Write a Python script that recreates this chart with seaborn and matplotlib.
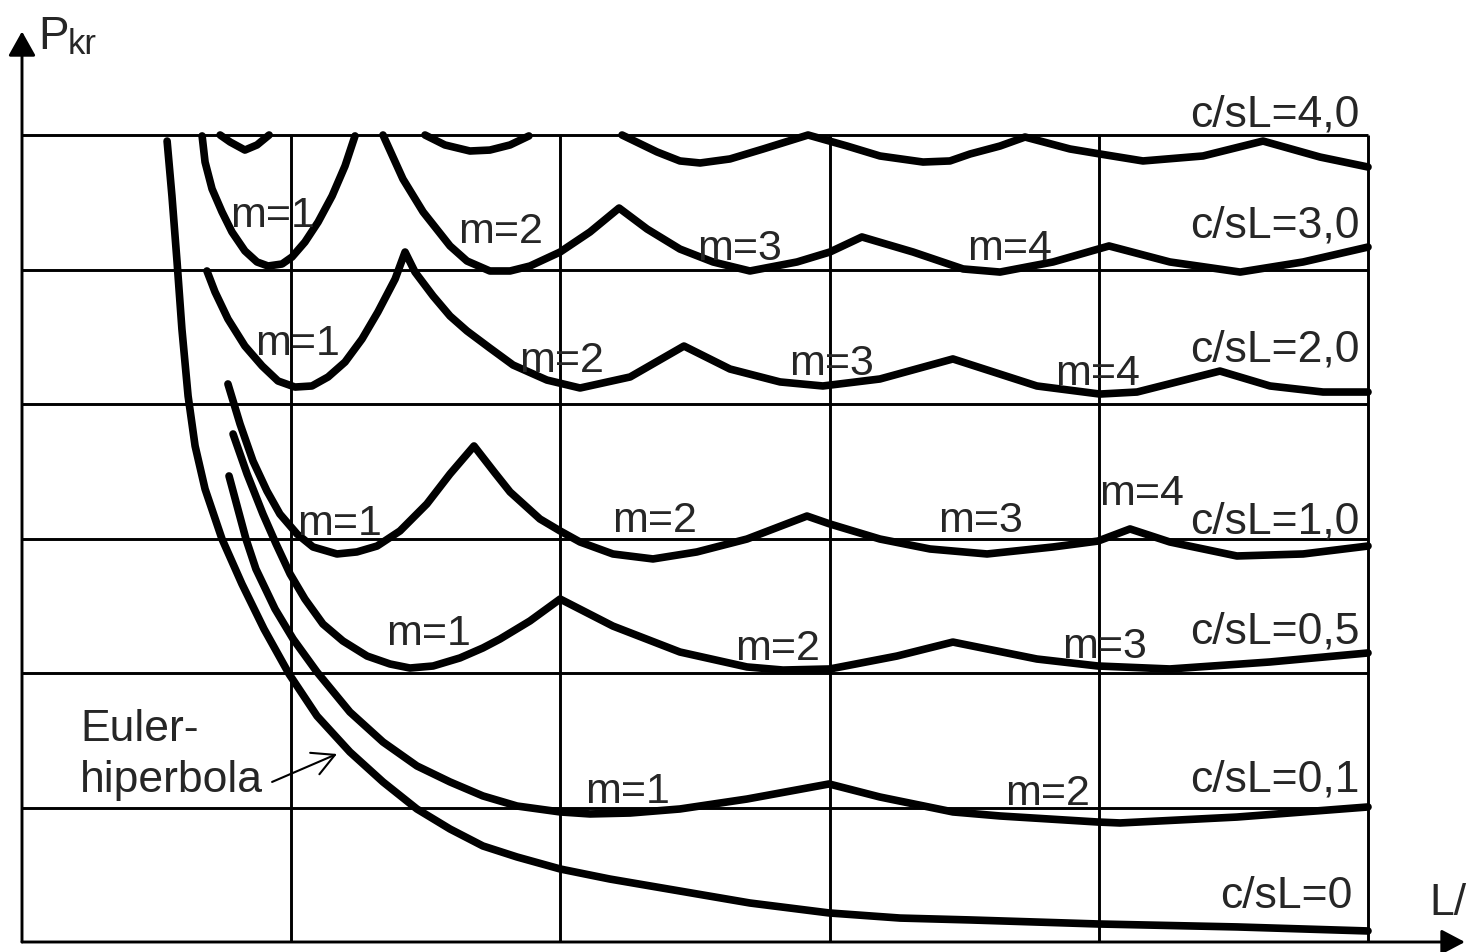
import numpy as np
import pandas as pd
import matplotlib
matplotlib.use("Agg")
import matplotlib.pyplot as plt
import seaborn as sns

# ---------------- data (grid units: L/... on x, P_kr on y) ----------------
euler_x = [0.539, 0.557, 0.576, 0.594, 0.617, 0.643, 0.680, 0.743, 0.817, 0.899, 0.992, 1.096, 1.218,
           1.341, 1.467, 1.590, 1.712, 1.839, 1.999, 2.184, 2.444, 2.704, 2.998, 3.262, 3.522, 3.997,
           4.513, 5.000]
euler_y = [5.955, 5.547, 5.056, 4.558, 4.059, 3.688, 3.368, 2.996, 2.662, 2.327, 1.993, 1.680, 1.413,
           1.190, 0.989, 0.840, 0.714, 0.632, 0.543, 0.468, 0.379, 0.290, 0.216, 0.178, 0.164, 0.134,
           0.112, 0.082]

c01_x = [0.769, 0.802, 0.832, 0.869, 0.940, 1.007, 1.096, 1.218, 1.341, 1.467, 1.590, 1.712, 1.839,
         1.999, 2.110, 2.259, 2.444, 2.693, 2.998, 3.187, 3.458, 3.633, 3.997, 4.079, 4.513, 5.000]
c01_y = [3.465, 3.219, 2.996, 2.773, 2.476, 2.253, 2.007, 1.710, 1.487, 1.309, 1.190, 1.086, 1.011,
         0.967, 0.952, 0.959, 0.989, 1.063, 1.175, 1.078, 0.967, 0.937, 0.892, 0.885, 0.929, 1.004]

c05_x = [0.784, 0.836, 0.895, 0.944, 0.996, 1.051, 1.118, 1.192, 1.282, 1.367, 1.441, 1.527, 1.627,
         1.712, 1.776, 1.887, 1.999, 2.195, 2.444, 2.693, 2.827, 3.001, 3.250, 3.458, 3.770, 3.997,
         4.264, 4.636, 5.000]
c05_y = [3.777, 3.480, 3.182, 2.959, 2.736, 2.550, 2.364, 2.238, 2.126, 2.067, 2.037, 2.052, 2.112,
         2.186, 2.253, 2.387, 2.550, 2.349, 2.156, 2.045, 2.022, 2.030, 2.126, 2.230, 2.104, 2.052,
         2.030, 2.082, 2.149]

c10_x = [0.765, 0.810, 0.858, 0.910, 0.958, 1.022, 1.081, 1.170, 1.244, 1.319, 1.404, 1.504, 1.590,
         1.679, 1.757, 1.813, 1.924, 1.999, 2.073, 2.195, 2.344, 2.507, 2.693, 2.916, 3.001, 3.187,
         3.373, 3.585, 3.830, 3.997, 4.116, 4.264, 4.513, 4.759, 5.000]
c10_y = [4.149, 3.851, 3.576, 3.353, 3.182, 3.033, 2.937, 2.885, 2.900, 2.944, 3.056, 3.257, 3.480,
         3.688, 3.487, 3.346, 3.145, 3.056, 2.974, 2.885, 2.848, 2.900, 2.996, 3.167, 3.108, 2.996,
         2.922, 2.885, 2.937, 2.981, 3.071, 2.974, 2.870, 2.885, 2.944]

c20_x = [0.687, 0.717, 0.765, 0.828, 0.892, 0.951, 1.014, 1.077, 1.137, 1.200, 1.263, 1.322, 1.386,
         1.423, 1.460, 1.527, 1.590, 1.653, 1.738, 1.824, 1.950, 2.073, 2.259, 2.459, 2.630, 2.816,
         2.975, 3.187, 3.458, 3.770, 4.004, 4.142, 4.450, 4.636, 4.833, 5.000]
c20_y = [4.989, 4.833, 4.632, 4.431, 4.283, 4.171, 4.126, 4.134, 4.201, 4.312, 4.483, 4.684, 4.929,
         5.130, 4.981, 4.803, 4.654, 4.543, 4.416, 4.290, 4.178, 4.119, 4.201, 4.431, 4.260, 4.164,
         4.134, 4.186, 4.335, 4.134, 4.074, 4.089, 4.245, 4.134, 4.089, 4.089]

c30a_x = [0.669, 0.680, 0.706, 0.743, 0.780, 0.828, 0.873, 0.914, 0.966, 1.003, 1.051, 1.100, 1.152,
          1.200, 1.237]
c30a_y = [5.993, 5.799, 5.599, 5.428, 5.279, 5.138, 5.056, 5.026, 5.041, 5.093, 5.204, 5.353, 5.547,
          5.770, 5.993]
c30b_x = [1.341, 1.415, 1.490, 1.590, 1.653, 1.738, 1.813, 1.887, 1.999, 2.110, 2.218, 2.322, 2.444, 2.567,
          2.704, 2.879, 3.001, 3.120, 3.310, 3.496, 3.633, 3.830, 4.038, 4.264, 4.525, 4.759, 5.000]
c30b_y = [6.000, 5.673, 5.428, 5.175, 5.063, 4.989, 4.989, 5.026, 5.130, 5.279, 5.457, 5.301, 5.152, 5.056,
          4.989, 5.056, 5.130, 5.242, 5.130, 5.004, 4.981, 5.056, 5.175, 5.056, 4.981, 5.056, 5.167]

c40a_x = [0.736, 0.773, 0.828, 0.873, 0.918]
c40a_y = [6.000, 5.948, 5.888, 5.926, 6.000]
c40b_x = [1.497, 1.571, 1.664, 1.738, 1.813, 1.883]
c40b_y = [6.000, 5.926, 5.881, 5.888, 5.926, 5.993]
c40c_x = [2.229, 2.359, 2.444, 2.519, 2.630, 2.753, 2.920, 3.065, 3.187, 3.347, 3.447, 3.522, 3.633,
          3.726, 3.893, 4.004, 4.164, 4.387, 4.610, 4.822, 5.000]
c40c_y = [6.000, 5.874, 5.807, 5.792, 5.822, 5.896, 6.000, 5.918, 5.844, 5.799, 5.807, 5.859, 5.918,
          5.985, 5.896, 5.859, 5.807, 5.844, 5.955, 5.836, 5.762]

series_labels = ["c/sL=4,0", "c/sL=3,0", "c/sL=2,0", "c/sL=1,0", "c/sL=0,5", "c/sL=0,1", "c/sL=0"]
mode_labels = ["m=1", "m=2", "m=3", "m=4"]
y_label_main, y_label_sub = "P", "kr"
x_label = "L/"
euler_label = ["Euler-", "hiperbola"]

segments = [
    ("c0", euler_x, euler_y), ("c01", c01_x, c01_y), ("c05", c05_x, c05_y),
    ("c10", c10_x, c10_y), ("c20", c20_x, c20_y), ("c30a", c30a_x, c30a_y),
    ("c30b", c30b_x, c30b_y), ("c40a", c40a_x, c40a_y), ("c40b", c40b_x, c40b_y),
    ("c40c", c40c_x, c40c_y),
]
frames = []
for name, xs, ys in segments:
    frames.append(pd.DataFrame({"x": xs, "y": ys, "seg": name}))
df = pd.concat(frames, ignore_index=True)

# ---------------- drawing ----------------
sns.set_style("white")
plt.rcParams["font.family"] = ["Liberation Sans", "DejaVu Sans"]

fig = plt.figure(figsize=(14.67, 9.53), dpi=100)
ax = fig.add_axes([0, 0, 1, 1])
XLIM = (-22 / 269.2, 1445 / 269.2)
YLIM = (-10 / 134.5, 943 / 134.5)

grid_lw = 2.1
for yv in range(1, 7):
    ax.plot([0, 5], [yv, yv], color="black", lw=grid_lw, solid_capstyle="butt", zorder=1)
for xv in range(1, 6):
    ax.plot([xv, xv], [0, 6], color="black", lw=grid_lw, solid_capstyle="butt", zorder=1)

# axes with arrows
ax.annotate("", xy=(0, 6.77), xytext=(0, 0),
            arrowprops=dict(arrowstyle="-|>,head_length=0.75,head_width=0.42", lw=grid_lw,
                            color="black", shrinkA=0, shrinkB=0, mutation_scale=20), zorder=2)
ax.annotate("", xy=(5.36, 0), xytext=(0, 0),
            arrowprops=dict(arrowstyle="-|>,head_length=0.72,head_width=0.38", lw=grid_lw,
                            color="black", shrinkA=0, shrinkB=0, mutation_scale=20), zorder=2)

# curves
sns.lineplot(data=df, x="x", y="y", units="seg", estimator=None, sort=False,
             color="black", linewidth=5.5, ax=ax, legend=False,
             solid_capstyle="round", solid_joinstyle="round", zorder=3)
ax.axis("off")
ax.set_xlim(*XLIM)
ax.set_ylim(*YLIM)

# mode labels (m=...)
fs_m = 31
mode_pos = [
    (0, 0.932, 5.323), (1, 1.776, 5.204), (2, 2.667, 5.078), (3, 3.670, 5.078),
    (0, 1.025, 4.372), (1, 2.006, 4.245), (2, 3.009, 4.223), (3, 3.997, 4.149),
    (0, 1.181, 3.033), (1, 2.351, 3.056), (2, 3.559, 3.056), (3, 4.160, 3.257),
    (0, 1.512, 2.216), (1, 2.808, 2.104), (2, 4.023, 2.119),
    (0, 2.251, 1.041), (1, 3.808, 1.026),
]
for idx, xx, yy in mode_pos:
    ax.text(xx, yy, mode_labels[idx], ha="center", va="baseline", fontsize=fs_m, zorder=4)

# series labels
fs_c = 32
series_pos = [(4.970, 6.067), (4.970, 5.242), (4.970, 4.320), (4.970, 3.048),
              (4.970, 2.230), (4.970, 1.123), (4.941, 0.260)]
for lab, (xx, yy) in zip(series_labels, series_pos):
    ax.text(xx, yy, lab, ha="right", va="baseline", fontsize=fs_c, zorder=4)

# axis titles
ax.text(0.059, 6.647, y_label_main, ha="left", va="baseline", fontsize=33)
ax.text(0.171, 6.610, y_label_sub, ha="left", va="baseline", fontsize=25)
ax.text(5.227, 0.208, x_label, ha="left", va="baseline", fontsize=32)

# Euler hyperbola annotation
ax.text(0.215, 1.502, euler_label[0], ha="left", va="baseline", fontsize=fs_c)
ax.text(0.215, 1.123, euler_label[1], ha="left", va="baseline", fontsize=fs_c)
ax.annotate("", xy=(1.170, 1.398), xytext=(0.929, 1.190),
            arrowprops=dict(arrowstyle="->,head_length=0.79,head_width=0.42", lw=1.5,
                            color="black", shrinkA=0, shrinkB=0, mutation_scale=20))

fig.savefig("out.png", dpi=100, facecolor="white")
